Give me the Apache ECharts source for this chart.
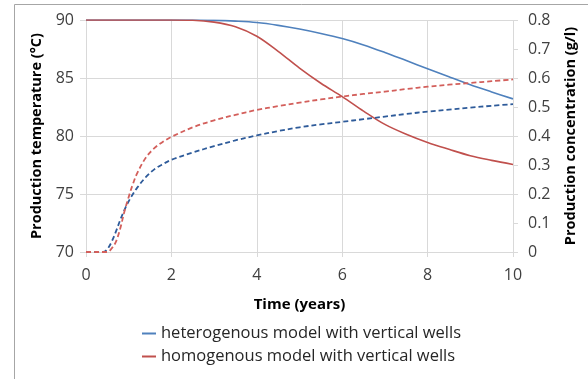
<!DOCTYPE html>
<html>
<head>
<meta charset="utf-8">
<script src="https://cdn.jsdelivr.net/npm/echarts@6/dist/echarts.min.js"></script>
<style>html,body{margin:0;padding:0;background:#fff}#c{width:588px;height:379px}</style>
</head>
<body>
<div id="c"></div>
<script>
const tempTime = [0, 0.5, 1, 1.5, 2, 2.5, 3, 3.5, 4, 4.5, 5, 5.5, 6, 6.5, 7, 7.5, 8, 8.5, 9, 9.5, 10];
const tempHetero = [90, 90, 90, 90, 90, 90, 89.97, 89.9, 89.78, 89.54, 89.22, 88.84, 88.4, 87.85, 87.2, 86.5, 85.8, 85.1, 84.42, 83.8, 83.2];
const tempHomo = [90, 90, 90, 90, 90, 89.98, 89.82, 89.42, 88.6, 87.3, 85.85, 84.55, 83.4, 82.15, 81.0, 80.15, 79.44, 78.85, 78.3, 77.9, 77.55];

const concTime = [0, 0.25, 0.4, 0.5, 0.6, 0.7, 0.8, 0.9, 1, 1.1, 1.2, 1.4, 1.6, 1.8, 2, 2.5, 3, 3.5, 4, 4.5, 5, 5.5, 6, 6.5, 7, 7.5, 8, 8.5, 9, 9.5, 10];
const concHetero = [0, 0, 0, 0.01, 0.035, 0.07, 0.11, 0.145, 0.175, 0.2, 0.222, 0.258, 0.285, 0.303, 0.318, 0.343, 0.365, 0.385, 0.402, 0.417, 0.43, 0.44, 0.449, 0.458, 0.467, 0.476, 0.484, 0.491, 0.498, 0.504, 0.51];
const concHomo = [0, 0, 0, 0, 0.012, 0.035, 0.08, 0.14, 0.19, 0.235, 0.272, 0.325, 0.358, 0.38, 0.397, 0.43, 0.454, 0.473, 0.49, 0.503, 0.515, 0.526, 0.536, 0.545, 0.553, 0.562, 0.57, 0.577, 0.583, 0.589, 0.595];

const legendNames = ['heterogenous model with vertical wells', 'homogenous model with vertical wells'];
const xTitle = 'Time (years)';
const yLeftTitle = 'Production temperature (°C)';
const yRightTitle = 'Production concentration (g/l)';

const zip = (xs, ys) => xs.map((x, i) => [x, ys[i]]);
const FONT = 'Open Sans';
const gridColor = '#d9d9d9';

const chart = echarts.init(document.getElementById('c'), null, {renderer: 'canvas'});
chart.setOption({
  animation: false,
  textStyle: {fontFamily: FONT},
  graphic: [{
    type: 'rect', silent: true,
    shape: {x: 14.5, y: 4.5, width: 800, height: 600},
    style: {fill: 'none', stroke: '#a6a6a6', lineWidth: 1}
  }],
  grid: {left: 86, right: 75, top: 20, bottom: 127},
  legend: {
    data: legendNames,
    orient: 'vertical',
    left: 142, top: 325, padding: 0,
    itemWidth: 14, itemHeight: 2, icon: 'rect',
    itemGap: 6,
    textStyle: {fontFamily: FONT, fontSize: 16.5, color: '#262626'}
  },
  xAxis: {
    type: 'value', min: 0, max: 10, interval: 2,
    name: xTitle, nameLocation: 'middle', nameGap: 45,
    nameTextStyle: {fontFamily: FONT, fontSize: 15, fontWeight: 'bold', color: '#000'},
    axisLine: {show: true, lineStyle: {color: gridColor, width: 1}},
    axisTick: {show: true, length: 5, lineStyle: {color: gridColor}},
    axisLabel: {fontFamily: FONT, fontSize: 16, color: '#404040', margin: 15},
    splitLine: {show: true, lineStyle: {color: gridColor, width: 1}}
  },
  yAxis: [{
    type: 'value', min: 70, max: 90, interval: 5, position: 'left',
    name: yLeftTitle, nameLocation: 'middle', nameGap: 41, nameRotate: 90,
    nameTextStyle: {fontFamily: FONT, fontSize: 14.5, fontWeight: 'bold', color: '#000'},
    axisLine: {show: false},
    axisTick: {show: true, length: 6, lineStyle: {color: gridColor}},
    axisLabel: {fontFamily: FONT, fontSize: 16, color: '#404040', margin: 12},
    splitLine: {show: true, lineStyle: {color: gridColor, width: 1}}
  }, {
    type: 'value', min: 0, max: 0.8, interval: 0.1, position: 'right',
    name: yRightTitle, nameLocation: 'middle', nameGap: 50, nameRotate: 90,
    nameTextStyle: {fontFamily: FONT, fontSize: 14.5, fontWeight: 'bold', color: '#000'},
    axisLine: {show: false},
    axisTick: {show: true, length: 5, lineStyle: {color: gridColor}},
    axisLabel: {fontFamily: FONT, fontSize: 16, color: '#404040', margin: 15},
    splitLine: {show: false}
  }],
  series: [{
    name: legendNames[0], type: 'line', yAxisIndex: 0,
    data: zip(tempTime, tempHetero), showSymbol: false, smooth: 0.35,
    lineStyle: {color: '#4f81bd', width: 1.6}, itemStyle: {color: '#4f81bd'}
  }, {
    name: legendNames[1], type: 'line', yAxisIndex: 0,
    data: zip(tempTime, tempHomo), showSymbol: false, smooth: 0.35,
    lineStyle: {color: '#c0504d', width: 1.6}, itemStyle: {color: '#c0504d'}
  }, {
    name: 'conc-hetero', type: 'line', yAxisIndex: 1,
    data: zip(concTime, concHetero), showSymbol: false, smooth: 0.35,
    lineStyle: {color: '#2e5b9a', width: 1.8, type: [5, 3]}
  }, {
    name: 'conc-homo', type: 'line', yAxisIndex: 1,
    data: zip(concTime, concHomo), showSymbol: false, smooth: 0.35,
    lineStyle: {color: '#d35f5b', width: 1.8, type: [5, 3]}
  }]
});
</script>
</body>
</html>
